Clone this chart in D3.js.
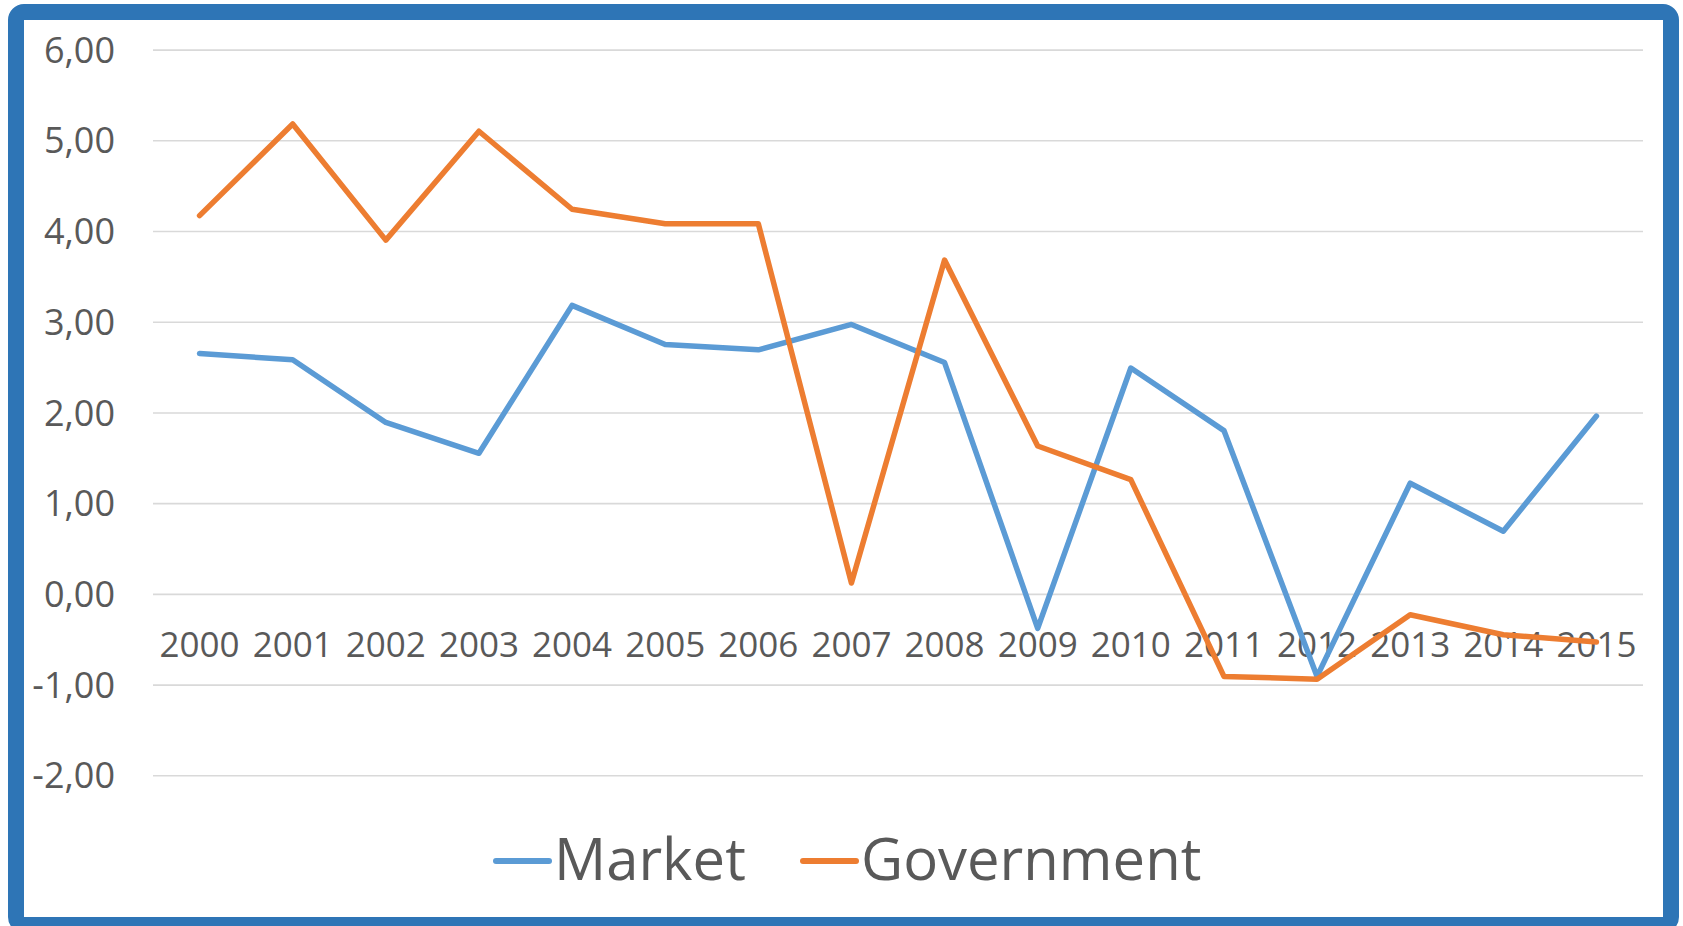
<!DOCTYPE html>
<html>
<head>
<meta charset="utf-8">
<script src="https://cdn.jsdelivr.net/npm/d3@7"></script>
<style>
  html, body { margin: 0; padding: 0; background: #fff; }
  svg { display: block; font-family: "Open Sans", sans-serif; }
  .tick text { fill: #595959; }
</style>
</head>
<body>
<div id="chart"></div>
<script>
// chart values
const years = ["2000", "2001", "2002", "2003", "2004", "2005", "2006", "2007",
    "2008", "2009", "2010", "2011", "2012", "2013", "2014", "2015"];
const market = [2.65, 2.58, 1.89, 1.55, 3.18, 2.75, 2.69, 2.97,
    2.55, -0.38, 2.49, 1.80, -0.91, 1.22, 0.69, 1.96];
const government = [4.17, 5.18, 3.90, 5.10, 4.24, 4.08, 4.08, 0.12,
    3.68, 1.63, 1.26, -0.91, -0.94, -0.23, -0.45, -0.53];
const seriesNames = ["Market", "Government"];
const yTicks = [-2, -1, 0, 1, 2, 3, 4, 5, 6];

(function () {
    const width = 1683, height = 926;
    const colors = {"Market": "#5B9BD5", "Government": "#ED7D31"};
    const series = [
        {name: seriesNames[0], values: market},
        {name: seriesNames[1], values: government}
    ];

    const left = 153, right = 1643, top = 49.6, bottom = 775.3;

    const locale = d3.formatLocale({decimal: ",", thousands: ".", grouping: [3], currency: ["", ""], minus: "-"});
    const fmt = locale.format(".2f");

    const svg = d3.select("#chart").append("svg")
        .attr("width", width).attr("height", height);

    const x = d3.scaleBand().domain(years).range([left, right]).padding(0);
    const y = d3.scaleLinear().domain([-2, 6]).range([bottom, top]);

    // gridlines + y labels
    const yAxis = svg.append("g").attr("transform", `translate(${left},0)`)
        .call(d3.axisLeft(y).tickValues(yTicks).tickFormat(fmt)
            .tickSizeInner(-(right - left)).tickSizeOuter(0).tickPadding(38));
    yAxis.select(".domain").remove();
    yAxis.selectAll(".tick line").attr("stroke", "#D9D9D9").attr("stroke-width", 1.6);
    yAxis.selectAll(".tick text").attr("font-size", 36).attr("dy", "0.35em")
        .attr("font-family", "Open Sans");

    // x labels at the zero line
    const xAxis = svg.append("g").attr("transform", `translate(0,${y(0)})`)
        .call(d3.axisBottom(x).tickSize(0).tickPadding(38));
    xAxis.select(".domain").remove();
    xAxis.selectAll(".tick text").attr("font-size", 35).attr("font-family", "Open Sans");

    const line = d3.line()
        .x((d, i) => x(years[i]) + x.bandwidth() / 2)
        .y(d => y(d));

    svg.selectAll(".series").data(series).enter().append("path")
        .attr("class", "series")
        .attr("d", d => line(d.values))
        .attr("fill", "none")
        .attr("stroke", d => colors[d.name])
        .attr("stroke-width", 5.5)
        .attr("stroke-linejoin", "round")
        .attr("stroke-linecap", "round");

    // legend
    const legendX = [496, 803];
    const legend = svg.selectAll(".legend").data(series).enter().append("g")
        .attr("class", "legend")
        .attr("transform", (d, i) => `translate(${legendX[i]},861)`);
    legend.append("line")
        .attr("x1", 0).attr("x2", 53).attr("y1", 0).attr("y2", 0)
        .attr("stroke", d => colors[d.name]).attr("stroke-width", 6)
        .attr("stroke-linecap", "round");
    legend.append("text")
        .attr("x", 58).attr("y", 19)
        .attr("font-size", 58)
        .attr("fill", "#595959")
        .text(d => d.name);

    // frame
    svg.append("rect")
        .attr("x", 16).attr("y", 12)
        .attr("width", 1655).attr("height", 913)
        .attr("rx", 8).attr("ry", 8)
        .attr("fill", "none")
        .attr("stroke", "#2E75B6")
        .attr("stroke-width", 16);
})();
</script>
</body>
</html>
